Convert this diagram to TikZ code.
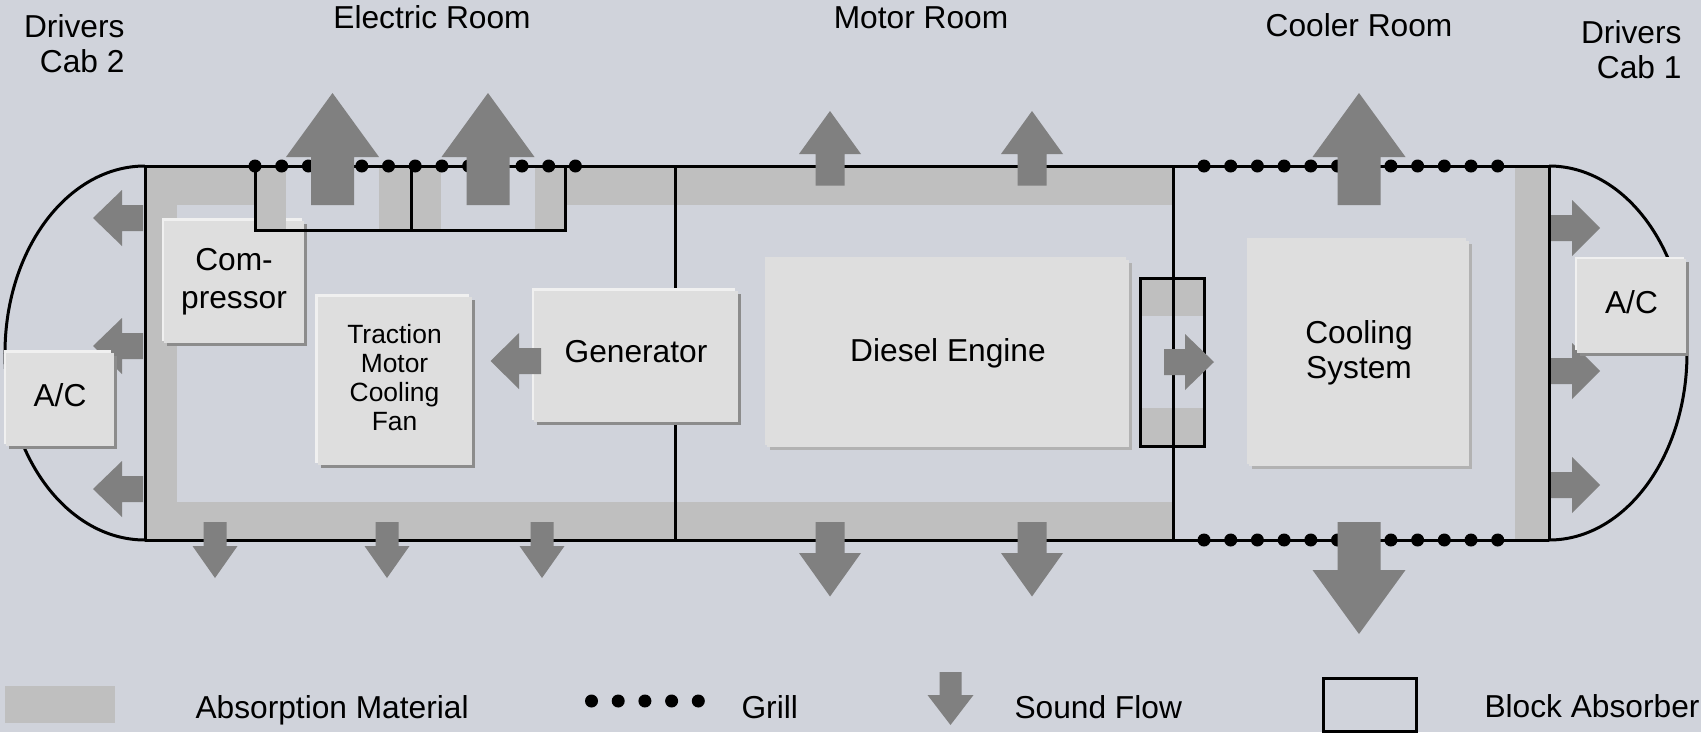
\documentclass[tikz,border=0pt]{standalone}
\usepackage{fontspec}
\setmainfont{Liberation Sans}
\usepackage{xcolor}
\usetikzlibrary{shadows}

\definecolor{wagonback}{HTML}{D0D3DB}
\definecolor{absorbgray}{HTML}{BFBFBF}
\definecolor{flowgray}{HTML}{808080}
\definecolor{machinegray}{HTML}{DEDEDE}

\tikzset{
  absorber/.style={fill=absorbgray},
  wall/.style={draw=black, line width=3pt},
  blockbox/.style={draw=black, line width=3pt},
  machine/.style={rectangle, fill=machinegray, inner sep=0pt, align=center,
    general shadow={fill=black!45, shadow xshift=3pt, shadow yshift=-3pt},
    general shadow={fill=black!6, shadow xshift=-2.5pt, shadow yshift=2.5pt}},
  bigmachine/.style={rectangle, fill=machinegray, inner sep=0pt, align=center,
    general shadow={fill=black!30, shadow xshift=3pt, shadow yshift=-3pt},
    general shadow={fill=machinegray, shadow xshift=-2.5pt, shadow yshift=2.5pt}},
  roomlabel/.style={anchor=base, align=center},
  legendlabel/.style={anchor=base west},
}

% tip, direction, length, head length, head width, shaft width
\newcommand{\soundflow}[6]{
  \begin{scope}[shift={(#1)}, rotate=#2]
    \fill[flowgray] (0,0) -- (-#4,#5/2) -- (-#4,#6/2) -- (-#3,#6/2)
      -- (-#3,-#6/2) -- (-#4,-#6/2) -- (-#4,-#5/2) -- cycle;
  \end{scope}
}

\begin{document}
\begin{tikzpicture}[x=1pt, y=-1pt, font=\fontsize{31.7}{35}\selectfont]
  \useasboundingbox (0,0) rectangle (1701,732);
  \fill[wagonback] (0,0) rectangle (1701,732);

  % absorption material
  \fill[absorber] (145,166) rectangle (255,205);
  \fill[absorber] (566,166) rectangle (1173,205);
  \fill[absorber] (145,166) rectangle (177,540);
  \fill[absorber] (145,502) rectangle (1173,540);
  \fill[absorber] (1515,166) rectangle (1549,540);

  % compressor lies over the wall lining, under the block absorber
  \node[machine, minimum width=140pt, minimum height=122.5pt, font=\fontsize{31.7}{38}\selectfont] (compressor) at (234,282)
    {Com-\\pressor};

  \fill[absorber] (255,166) rectangle (286,229);
  \fill[absorber] (379,166) rectangle (441,229);
  \fill[absorber] (535,166) rectangle (566,229);
  \fill[absorber] (1140,278) rectangle (1204,316);
  \fill[absorber] (1140,408) rectangle (1204,446);

  % wagon body
  \draw[wall] (145,166) -- (1549,166);
  \draw[wall] (145,540) -- (1549,540);
  \draw[wall] (145,166) -- (145,540);
  \draw[wall] (675,166) -- (675,540);
  \draw[wall] (1173,166) -- (1173,540);
  \draw[wall] (1549,166) -- (1549,540);
  \draw[wall] (145,166) arc[start angle=270, end angle=90, x radius=140, y radius=187];
  \draw[wall] (1549,166) arc[start angle=-90, end angle=90, x radius=138, y radius=187];

  % block absorbers
  \draw[blockbox] (255,166) rectangle (411,230);
  \draw[blockbox] (411,166) rectangle (565,230);
  \draw[blockbox] (1140,278) rectangle (1204,446);

  % grills
  \foreach \i in {0,...,12}
    \fill[black] ({255+26.7*\i},166) circle (6.5pt);
  \foreach \i in {0,...,11} {
    \fill[black] ({1204+26.7*\i},166) circle (6.5pt);
    \fill[black] ({1204+26.7*\i},540) circle (6.5pt);
  }

  % machines under the flow arrows
  \node[machine, minimum width=154pt, minimum height=168.5pt, font=\fontsize{26.4}{29}\selectfont] (fan) at (394.5,381)
    {\raisebox{7.6pt}{\begin{tabular}{@{}c@{}}Traction\\Motor\\Cooling\\Fan\end{tabular}}};
  \node[machine, minimum width=203.5pt, minimum height=131.5pt] (generator) at (636,356.5) {\raisebox{9.5pt}{Generator}};
  \node[bigmachine, minimum width=361.5pt, minimum height=187.5pt] (engine) at (948,353.5) {\raisebox{5pt}{Diesel Engine}};
  \node[bigmachine, minimum width=219.5pt, minimum height=225.5pt] (cooling) at (1359,353.5)
    {\raisebox{4.4pt}{\begin{tabular}{@{}c@{}}Cooling\\System\end{tabular}}};

  % sound flow
  \soundflow{332.5,93}{90}{112}{64}{93}{43}
  \soundflow{488,93}{90}{112}{64}{93}{43}
  \soundflow{1359,93}{90}{112}{64}{93}{43}
  \soundflow{830,111}{90}{74.5}{43}{62}{29}
  \soundflow{1032,111}{90}{74.5}{43}{62}{29}
  \soundflow{215,578}{-90}{56}{32}{45}{23}
  \soundflow{387,578}{-90}{56}{32}{45}{23}
  \soundflow{542,578}{-90}{56}{32}{45}{23}
  \soundflow{830,596.5}{-90}{74.5}{43.5}{62}{29}
  \soundflow{1032,596.5}{-90}{74.5}{43.5}{62}{29}
  \soundflow{1359,634}{-90}{112}{64}{93}{43}
  \soundflow{93,218}{180}{50}{29}{56}{26}
  \soundflow{93,346}{180}{50}{29}{56}{26}
  \soundflow{93,489}{180}{50}{29}{56}{26}
  \soundflow{1600,228}{0}{49}{28}{56}{26}
  \soundflow{1600,371}{0}{49}{28}{56}{26}
  \soundflow{1600,485}{0}{49}{28}{56}{26}
  \soundflow{490.5,361}{180}{50.5}{28.5}{56}{26}
  \soundflow{1214,362}{0}{50}{29}{56}{26}

  % air conditioners in the cabs
  \node[machine, minimum width=107.5pt, minimum height=93.5pt] (ac left) at (60,399.5) {\raisebox{8.4pt}{A/C}};
  \node[machine, minimum width=109pt, minimum height=93.5pt] (ac right) at (1631.5,306) {\raisebox{8.4pt}{A/C}};

  % rooms
  \node[roomlabel, align=right, anchor=north east] (cab two) at (128,11) {Drivers\\Cab 2};
  \node[roomlabel] (electric room) at (432,28) {Electric Room};
  \node[roomlabel] (motor room) at (921,28) {Motor Room};
  \node[roomlabel] (cooler room) at (1359,36) {Cooler Room};
  \node[roomlabel, align=right, anchor=north east] (cab one) at (1685,17) {Drivers\\Cab 1};

  % legend
  \fill[absorber] (5,686) rectangle (115,723);
  \node[legendlabel] (absorption label) at (192,718) {Absorption Material};
  \foreach \i in {0,...,4}
    \fill[black] ({591.5+26.7*\i},701) circle (6.5pt);
  \node[legendlabel] (grill label) at (738,718) {Grill};
  \soundflow{950.5,725}{-90}{53}{30}{46}{22}
  \node[legendlabel] (flow label) at (1011,718) {Sound Flow};
  \draw[blockbox] (1323,678) rectangle (1416,731);
  \node[legendlabel] (block label) at (1481,717) {Block Absorber};
\end{tikzpicture}
\end{document}
